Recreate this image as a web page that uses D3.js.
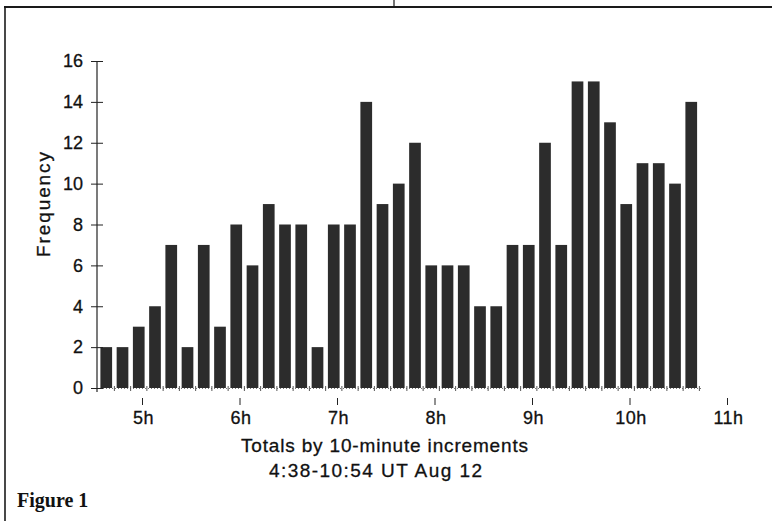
<!DOCTYPE html>
<html>
  <head>
    <title>Frequency by 10-minute increments</title>
    <style>
    body {
        margin: 0px;
        overflow: hidden;
        background: white;
    }

    text {
        font-family: 'Liberation Sans', Arial, sans-serif;
        fill: #111;
        stroke: #111;
        stroke-width: 0.3px;
    }

    .tick text {
        font-size: 18px;
    }

    .tick line, .domain {
        stroke: #222;
    }

    .figure-label {
        font-family: 'Liberation Serif', 'Times New Roman', serif;
        font-weight: bold;
        font-size: 20px;
        stroke-width: 0;
    }
    </style>
    <script src="https://d3js.org/d3.v7.min.js"></script>
  </head>
  <body>

    <svg width="772" height="521"></svg>

    <script>
        // bar centre times (UT, Aug 12), one bar per 10-minute increment
        const binTimes = ['4:38', '4:48', '4:58', '5:08', '5:18', '5:28', '5:38', '5:48', '5:58',
                          '6:08', '6:18', '6:28', '6:38', '6:48', '6:58', '7:08', '7:18', '7:28',
                          '7:38', '7:48', '7:58', '8:08', '8:18', '8:28', '8:38', '8:48', '8:58',
                          '9:08', '9:18', '9:28', '9:38', '9:48', '9:58', '10:08', '10:18', '10:28',
                          '10:38'];
        const frequency = [2, 2, 3, 4, 7, 2, 7, 3, 8, 6, 9, 8, 8, 2, 8, 8, 14, 9,
                           10, 12, 6, 6, 6, 4, 4, 7, 7, 12, 7, 15, 15, 13, 9, 11, 11, 10,
                           14];
        const hourTicks = [5, 6, 7, 8, 9, 10, 11];
        const yTicks = [0, 2, 4, 6, 8, 10, 12, 14, 16];

        const xAxisLabel = 'Totals by 10-minute increments';
        const xAxisLabel2 = '4:38-10:54 UT Aug 12';
        const yAxisLabel = 'Frequency';
        const figureLabel = 'Figure 1';

        const svg = d3.select('svg');

        const toMin = s => {
            const p = s.split(':');
            return +p[0] * 60 + +p[1];
        };

        const data = binTimes.map((t, i) => ({ t: toMin(t), value: frequency[i] }));

        // minutes -> px
        const xScale = d3.scaleLinear()
            .domain([5 * 60, 11 * 60])
            .range([142, 727]);

        const yScale = d3.scaleLinear()
            .domain([0, 16])
            .range([388, 61]);

        const axisX = 97;

        // frame of the scanned page
        svg.append('line')
            .attr('x1', 4).attr('x2', 772)
            .attr('y1', 7).attr('y2', 7)
            .attr('stroke', '#1a1a1a')
            .attr('stroke-width', 2);
        svg.append('line')
            .attr('x1', 5).attr('x2', 5)
            .attr('y1', 6).attr('y2', 521)
            .attr('stroke', '#1a1a1a')
            .attr('stroke-width', 1.6);
        svg.append('line')
            .attr('x1', 394).attr('x2', 394)
            .attr('y1', 0).attr('y2', 7)
            .attr('stroke', '#1a1a1a')
            .attr('stroke-width', 1.2);

        // bars
        const halfW = 3.6;
        svg.append('g').selectAll('rect').data(data)
            .enter().append('rect')
            .attr('x', d => xScale(d.t - halfW))
            .attr('width', d => xScale(d.t + halfW) - xScale(d.t - halfW))
            .attr('y', d => yScale(d.value))
            .attr('height', d => yScale(0) - yScale(d.value))
            .attr('fill', '#2c2c2c');

        // faint baseline with small marks between bars
        svg.append('line')
            .attr('x1', axisX).attr('x2', xScale(toMin('10:44')))
            .attr('y1', yScale(0) + 0.5).attr('y2', yScale(0) + 0.5)
            .attr('stroke', '#777')
            .attr('stroke-dasharray', '1,2');
        svg.append('g').selectAll('line').data(data)
            .enter().append('line')
            .attr('x1', d => xScale(d.t + 5))
            .attr('x2', d => xScale(d.t + 5))
            .attr('y1', yScale(0) - 2)
            .attr('y2', yScale(0) + 3)
            .attr('stroke', '#555')
            .attr('stroke-width', 1);

        // y axis (ticks cross the line)
        const yAxis = d3.axisLeft(yScale)
            .tickValues(yTicks)
            .tickSize(6)
            .tickPadding(8)
            .tickSizeOuter(0);
        const yAxisG = svg.append('g')
            .attr('transform', `translate(${axisX},0)`)
            .call(yAxis);
        yAxisG.selectAll('.tick line').attr('x2', 6).attr('x1', -6);
        yAxisG.select('.domain')
            .attr('d', `M0,${yScale(16)}V${yScale(0) + 4}`)
            .attr('stroke-width', 1.2);
        yAxisG.selectAll('.tick text')
            .attr('x', -14);

        // x axis: hour ticks, detached from the bars
        const xAxis = d3.axisBottom(xScale)
            .tickValues(hourTicks.map(h => h * 60))
            .tickFormat(m => (m / 60) + 'h')
            .tickSize(7)
            .tickPadding(6);
        const xAxisG = svg.append('g')
            .attr('transform', `translate(0,398)`)
            .call(xAxis);
        xAxisG.select('.domain').remove();
        xAxisG.selectAll('.tick text')
            .attr('letter-spacing', 0.5)
            .attr('dx', 1);

        // axis titles
        svg.append('text')
            .attr('x', 241).attr('y', 452)
            .attr('font-size', '19px')
            .attr('textLength', 287)
            .attr('lengthAdjust', 'spacing')
            .text(xAxisLabel);

        svg.append('text')
            .attr('x', 269).attr('y', 477)
            .attr('font-size', '19px')
            .attr('textLength', 213)
            .attr('lengthAdjust', 'spacing')
            .text(xAxisLabel2);

        svg.append('text')
            .attr('transform', 'translate(50,257) rotate(-90)')
            .attr('font-size', '19px')
            .attr('textLength', 105)
            .attr('lengthAdjust', 'spacing')
            .text(yAxisLabel);

        svg.append('text')
            .attr('class', 'figure-label')
            .attr('x', 17).attr('y', 507)
            .text(figureLabel);
    </script>
  </body>
</html>
